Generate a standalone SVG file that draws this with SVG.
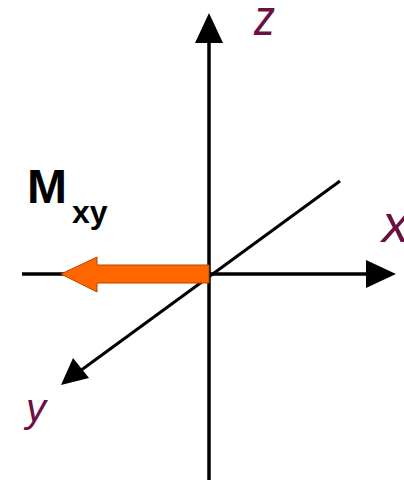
<svg xmlns="http://www.w3.org/2000/svg" width="404" height="483" viewBox="0 0 404 483">
<style>
.ax{stroke:#000;stroke-width:3.5;fill:none}
.lbl{font-family:"Liberation Sans",Arial,sans-serif;font-style:italic;fill:#6b1040}
.m{font-family:"Liberation Sans",Arial,sans-serif;font-weight:bold;fill:#000}
</style>
<rect width="404" height="483" fill="#fff"/>
<g id="connectors">
<line class="ax" x1="209" y1="480" x2="209" y2="38"/>
<polygon points="209,13 195,43 223,43" fill="#000"/>
<line class="ax" x1="22" y1="274" x2="370" y2="274"/>
<polygon points="396,274 366,260 366,288" fill="#000"/>
<line x1="340" y1="181" x2="80" y2="371" stroke="#000" stroke-width="3"/>
<polygon points="61,385 73,358 89,378" fill="#000"/>
</g>
<g id="moment">
<polygon points="209,265 97,265 97,257 61,274 97,292 97,283 209,283" fill="#ff6600" stroke="#b34700" stroke-width="1"/>
</g>
<g id="labels">
<text class="lbl" x="254" y="35" font-size="50" textLength="21" lengthAdjust="spacingAndGlyphs">z</text>
<text class="lbl" x="382" y="242" font-size="54">x</text>
<text class="lbl" x="26" y="422" font-size="40">y</text>
<text class="m" x="27" y="203" font-size="48">M</text>
<text class="m" x="72" y="223" font-size="32">xy</text>
</g>
</svg>
